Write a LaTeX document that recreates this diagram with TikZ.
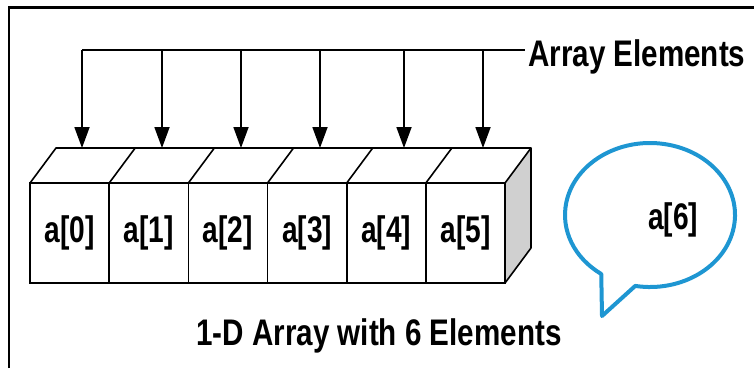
\documentclass[tikz,border=0pt]{standalone}
\usepackage{fontspec}
\newfontfamily\arrfont{Liberation Sans}[FakeStretch=0.76]
\newfontfamily\capfont{Liberation Sans}[FakeStretch=0.8]
\usetikzlibrary{arrows.meta}
\usetikzlibrary{positioning}
\definecolor{bubbleblue}{HTML}{1E96D2}
\definecolor{sidegray}{HTML}{D0D0D0}

\begin{document}
\begin{tikzpicture}[x=1pt,y=-1pt,
  lbl/.style={font=\arrfont\bfseries\fontsize{37}{42}\selectfont},
  big/.style={font=\capfont\bfseries\fontsize{37}{42}\selectfont, inner sep=0pt},
  cell/.style={draw, line width=1.6pt, minimum width=79.17pt, minimum height=100pt,
    inner sep=0pt, outer sep=0pt, lbl},
  arr/.style={line width=1.8pt, -{Triangle[length=21pt,width=15pt]}}]
\useasboundingbox (0,0) rectangle (754,368);
% frame
\draw[line width=1.5pt] (9,368) -- (9,7);
\draw[line width=3pt] (8.25,7) -- (754,7);
% front faces of the cells
\foreach \i in {0,...,5}
  \node[cell] (c\i) at (69.6+79.17*\i,233) {a[\i]};
% top face and shaded side
\coordinate (tl) at (56,148);
\coordinate (tr) at (531,148);
\coordinate (br) at (531,248);
\filldraw[line width=1.6pt, line join=round, fill=sidegray]
  (c5.north east) -- (tr) -- (br) -- (c5.south east) -- cycle;
\draw[line width=1.6pt, line join=round] (c0.north west) -- (tl) -- (tr);
\foreach \i in {1,...,5}
  \draw[line width=1.6pt] (c\i.north west) -- ++(26,-35);
% label and pointers
\node[big, anchor=base west] (title) at (528,66) {Array Elements};
\foreach \i/\ax in {0/82,1/162,2/241,3/320,4/404,5/483} {
  \coordinate (b\i) at (\ax,50);
  \coordinate (t\i) at (\ax,148);
  \draw[arr] (b\i) -- (t\i);
}
\draw[line width=1.8pt] (b0) -- ([xshift=-3pt]b0 -| title.west);
% the extra element in a callout
\node[lbl] (extra) at (673,220) {a[6]};
\draw[bubbleblue, line width=4pt, line join=round]
  (650,215) ++(100:85 and 72)
  arc[start angle=100, end angle=-235, x radius=85, y radius=72]
  -- (602,316) -- cycle;
% caption
\node[big, anchor=base] (caption) at (379,345) {1-D Array with 6 Elements};
\end{tikzpicture}
\end{document}
